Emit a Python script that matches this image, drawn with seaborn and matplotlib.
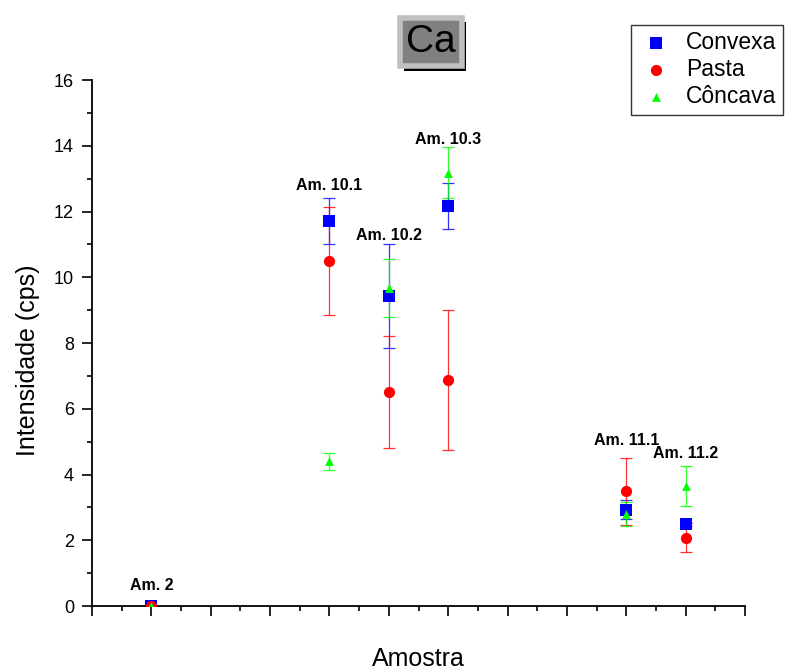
import matplotlib
matplotlib.use("Agg")
import matplotlib.pyplot as plt
import matplotlib.patheffects as pe
from matplotlib.ticker import MultipleLocator, NullFormatter
import seaborn as sns
import pandas as pd

# data
samples = ["Am. 2", "Am. 10.1", "Am. 10.2", "Am. 10.3", "Am. 11.1", "Am. 11.2"]
sample_pos = [1, 4, 5, 6, 9, 10]
label_height = [0.41, 12.55, 11.05, 13.95, 4.8, 4.4]

convexa = [0.0, 11.70, 9.43, 12.18, 2.93, 2.49]
convexa_err = [0.0, 0.70, 1.57, 0.70, 0.29, 0.05]
pasta = [0.0, 10.49, 6.51, 6.89, 3.49, 2.08]
pasta_err = [0.0, 1.64, 1.70, 2.13, 1.02, 0.44]
concava = [0.0, 4.40, 9.67, 13.18, 2.80, 3.64]
concava_err = [0.0, 0.25, 0.88, 0.77, 0.36, 0.61]

series = [
    ("Convexa", convexa, convexa_err, "#0000ff", "s", 80),
    ("Pasta", pasta, pasta_err, "#ff0000", "o", 65),
    ("Côncava", concava, concava_err, "#00ff00", "^", 40),
]

sns.set_style("ticks", {"text.color": "black", "axes.labelcolor": "black",
                        "xtick.color": "black", "ytick.color": "black"})
plt.rcParams["font.family"] = ["Liberation Sans", "DejaVu Sans"]

fig = plt.figure(figsize=(7.9, 6.7), dpi=100)
ax = fig.add_axes([0.1165, 0.0955, 0.8266, 0.785])

for name, vals, errs, color, marker, size in series:
    df = pd.DataFrame({"pos": sample_pos, "val": vals, "err": errs})
    ax.errorbar(df["pos"], df["val"], yerr=df["err"], fmt="none",
                ecolor=color, elinewidth=0.9, capsize=4, capthick=0.9, alpha=0.8)
    sns.scatterplot(data=df, x="pos", y="val", ax=ax, marker=marker,
                    color=color, s=size, linewidth=0, label=name, zorder=3)

for s, xp, yh in zip(samples, sample_pos, label_height):
    ax.text(xp, yh, s, ha="center", va="bottom", fontsize=11.5,
            fontweight="bold")

ax.set_xlim(0, 11)
ax.set_ylim(0, 16)
ax.xaxis.set_major_locator(MultipleLocator(1))
ax.xaxis.set_minor_locator(MultipleLocator(0.5))
ax.xaxis.set_major_formatter(NullFormatter())
ax.yaxis.set_major_locator(MultipleLocator(2))
ax.yaxis.set_minor_locator(MultipleLocator(1))
ax.tick_params(which="major", direction="out", length=7, width=1.2,
               labelsize=13, pad=6)
ax.tick_params(which="minor", direction="out", length=3.5, width=1.2)
sns.despine(ax=ax)
for sp in ["left", "bottom"]:
    ax.spines[sp].set_linewidth(1.3)
    ax.spines[sp].set_color("black")

ax.set_xlabel("Amostra", fontsize=18)
ax.set_ylabel("Intensidade (cps)", fontsize=18)
ax.xaxis.set_label_coords(0.5, -0.078)
ax.yaxis.set_label_coords(-0.08, 0.468)

leg = ax.legend(loc="upper left", bbox_to_anchor=(0.799, 0.963),
                bbox_transform=fig.transFigure, fontsize=16.5,
                frameon=True, fancybox=False, edgecolor="black",
                borderpad=0.28, labelspacing=0.18, handlelength=1.6,
                handletextpad=0.5, borderaxespad=0)
leg.get_frame().set_linewidth(1.0)

title = fig.text(0.5456, 0.937, "Ca", ha="center", va="center", fontsize=28,
                 bbox=dict(boxstyle="square,pad=0.16", fc="#808080",
                           ec="#c0c0c0", lw=4))
title.get_bbox_patch().set_path_effects([
    pe.SimplePatchShadow(offset=(3, -3), shadow_rgbFace="black", alpha=1),
    pe.Normal(),
])

fig.savefig("out.png", dpi=100)
